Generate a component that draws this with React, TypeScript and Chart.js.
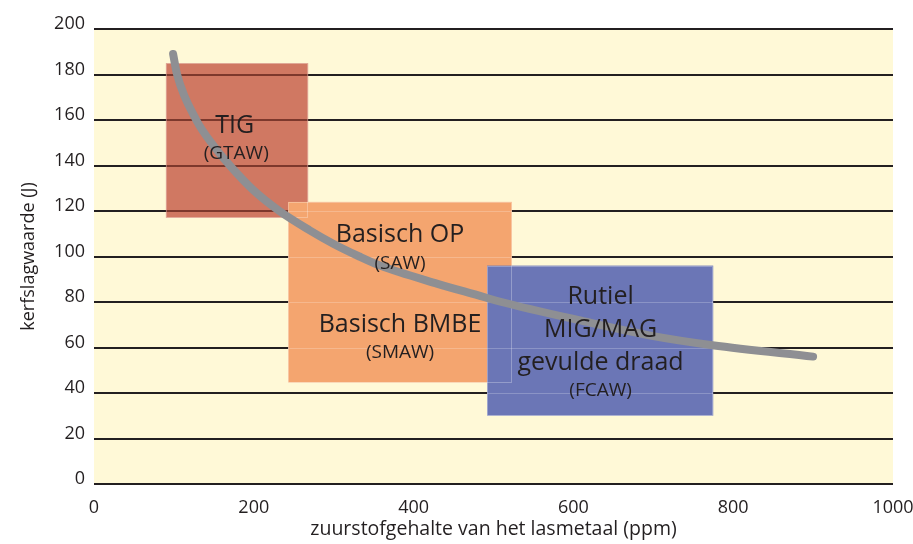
import React, { useEffect, useRef } from "react";
import { Chart, registerables } from "chart.js";

Chart.register(...registerables);

// Axis ticks
const xTickValues = [0, 200, 400, 600, 800, 1000];
const yTickValues = [0, 20, 40, 60, 80, 100, 120, 140, 160, 180, 200];

// Trend curve (oxygen content ppm -> impact energy J)
const curveX = [99, 104, 128, 150, 170, 200, 232, 270, 300, 332, 358, 430, 480, 510, 607, 700, 774, 900];
const curveY = [189, 180, 160, 148.5, 140, 129, 120, 111.5, 105.5, 100, 96, 88, 83, 80, 72, 65, 61, 56];

// Process ranges (boxes)
const boxNames = ["TIG", "Basisch", "Rutiel"];
const boxXMin = [90, 243, 492];
const boxXMax = [268, 523, 775];
const boxYMin = [117, 44.6, 30];
const boxYMax = [185, 124, 96];
const boxColors = ["#D07862", "#F4A56F", "#6B76B6"];
const boxGridColors = ["rgba(110,45,35,0.85)", "rgba(255,255,255,0.22)", "rgba(255,255,255,0.22)"];

// Labels inside the boxes
const labelText = ["TIG", "(GTAW)", "Basisch OP", "(SAW)", "Basisch BMBE", "(SMAW)", "Rutiel", "MIG/MAG", "gevulde draad", "(FCAW)"];
const labelX = [176, 178, 383, 383, 383, 383, 634, 634, 634, 634];
const labelY = [157.5, 145.2, 109.3, 96.8, 69.8, 57.9, 82.2, 67.8, 53.2, 41.2];
const labelSize = [25, 19, 25, 19, 25, 19, 25, 25, 25, 19];

const TEXT = "#231f20";
const FONT = "'Open Sans', 'DejaVu Sans', sans-serif";

const bgPlugin = {
  id: "bgPlugin",
  beforeDraw(chart: any) {
    const { ctx, chartArea } = chart;
    ctx.save();
    ctx.fillStyle = "#FFF9D7";
    ctx.fillRect(chartArea.left, chartArea.top, chartArea.right - chartArea.left, chartArea.bottom - chartArea.top);
    ctx.restore();
  },
};

const boxPlugin = {
  id: "boxPlugin",
  beforeDatasetsDraw(chart: any) {
    const { ctx } = chart;
    const xs = chart.scales.x;
    const ys = chart.scales.y;
    ctx.save();
    for (let i = 0; i < boxNames.length; i++) {
      const l = xs.getPixelForValue(boxXMin[i]);
      const r = xs.getPixelForValue(boxXMax[i]);
      const t = ys.getPixelForValue(boxYMax[i]);
      const b = ys.getPixelForValue(boxYMin[i]);
      ctx.fillStyle = boxColors[i];
      ctx.fillRect(l, t, r - l, b - t);
      // grid lines showing through
      ctx.strokeStyle = boxGridColors[i];
      ctx.lineWidth = i === 0 ? 2 : 1;
      for (const v of yTickValues) {
        if (v > boxYMin[i] && v < boxYMax[i]) {
          const py = Math.round(ys.getPixelForValue(v)) + (i === 0 ? 0 : 0.5);
          ctx.beginPath();
          ctx.moveTo(l, py);
          ctx.lineTo(r, py);
          ctx.stroke();
        }
      }
    }
    // faint box edges
    ctx.strokeStyle = "rgba(255,255,255,0.28)";
    ctx.lineWidth = 1;
    for (let i = 0; i < boxNames.length; i++) {
      const l = xs.getPixelForValue(boxXMin[i]);
      const r = xs.getPixelForValue(boxXMax[i]);
      const t = ys.getPixelForValue(boxYMax[i]);
      const b = ys.getPixelForValue(boxYMin[i]);
      ctx.strokeRect(Math.round(l) + 0.5, Math.round(t) + 0.5, Math.round(r - l) - 1, Math.round(b - t) - 1);
    }
    ctx.restore();
  },
  afterDatasetsDraw(chart: any) {
    const { ctx } = chart;
    const xs = chart.scales.x;
    const ys = chart.scales.y;
    ctx.save();
    ctx.fillStyle = TEXT;
    ctx.textAlign = "center";
    ctx.textBaseline = "middle";
    for (let i = 0; i < labelText.length; i++) {
      ctx.font = `${labelSize[i]}px ${FONT}`;
      ctx.fillText(labelText[i], xs.getPixelForValue(labelX[i]), ys.getPixelForValue(labelY[i]));
    }
    ctx.restore();
  },
};

export default function App() {
  const canvasRef = useRef<HTMLCanvasElement | null>(null);

  useEffect(() => {
    if (!canvasRef.current) return;
    const chart = new Chart(canvasRef.current, {
      type: "scatter",
      data: {
        datasets: [
          {
            data: curveX.map((x, i) => ({ x, y: curveY[i] })),
            showLine: true,
            borderColor: "#8E8F93",
            borderWidth: 8,
            borderCapStyle: "round",
            borderJoinStyle: "round",
            pointRadius: 0,
            cubicInterpolationMode: "monotone",
            fill: false,
          } as any,
        ],
      },
      options: {
        animation: false,
        responsive: true,
        maintainAspectRatio: false,
        layout: { padding: { top: 29, right: 20, bottom: 0, left: 0 } },
        plugins: {
          legend: { display: false },
          tooltip: { enabled: false },
        },
        scales: {
          x: {
            type: "linear",
            min: 0,
            max: 1000,
            afterBuildTicks: (scale: any) => {
              scale.ticks = xTickValues.map((v) => ({ value: v }));
            },
            afterFit: (scale: any) => {
              scale.height = 60;
              scale.paddingLeft = 0;
              scale.paddingRight = 0;
            },
            grid: { display: false, drawTicks: false },
            border: { display: false },
            ticks: {
              padding: 13,
              color: TEXT,
              font: { family: FONT, size: 18 },
              maxRotation: 0,
              callback: (v: any) => String(v),
            },
            title: {
              display: true,
              text: "zuurstofgehalte van het lasmetaal (ppm)",
              color: TEXT,
              font: { family: FONT, size: 19.5 },
              padding: { top: 0, bottom: 3 },
            },
          },
          y: {
            type: "linear",
            min: 0,
            max: 200,
            afterBuildTicks: (scale: any) => {
              scale.ticks = yTickValues.map((v) => ({ value: v }));
            },
            afterFit: (scale: any) => {
              scale.width = 94;
              scale.paddingTop = 0;
              scale.paddingBottom = 0;
            },
            grid: { color: TEXT, lineWidth: 2, drawTicks: false },
            border: { display: false },
            ticks: {
              padding: 9,
              labelOffset: -5,
              color: TEXT,
              font: { family: FONT, size: 18 },
              callback: (v: any) => String(v),
            },
            title: {
              display: true,
              text: "kerfslagwaarde (J)",
              color: TEXT,
              font: { family: FONT, size: 18 },
              padding: { top: 18, bottom: 0 },
            },
          },
        },
      },
      plugins: [bgPlugin, boxPlugin],
    });
    return () => chart.destroy();
  }, []);

  return (
    <div style={{ position: "fixed", left: 0, top: 0, width: 913, height: 544 }}>
      <canvas ref={canvasRef} />
    </div>
  );
}
